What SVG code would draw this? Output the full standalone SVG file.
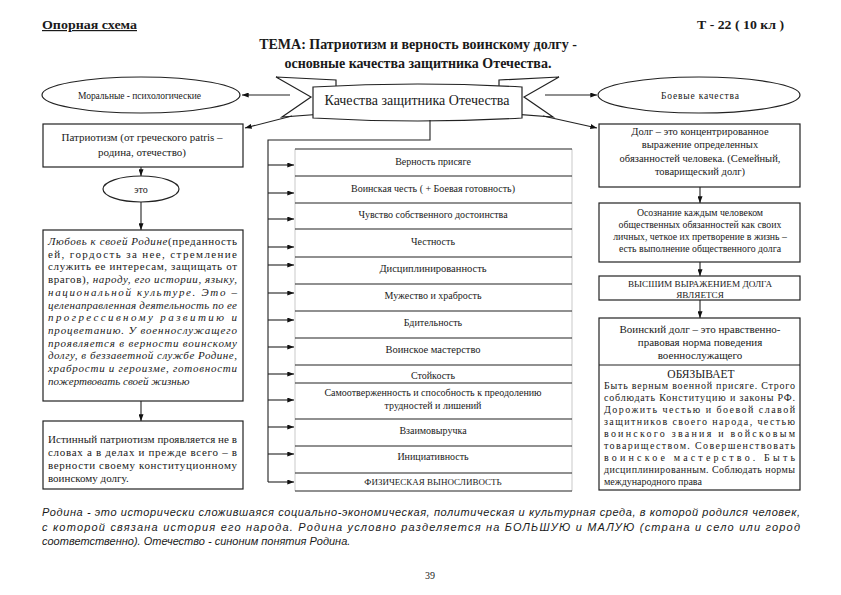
<svg xmlns="http://www.w3.org/2000/svg" width="841" height="595" viewBox="0 0 841 595">
<style>
.s{font-family:'Liberation Serif','Times New Roman',serif;fill:#1a1a1a}
.b{font-weight:bold}
.c{text-anchor:middle}
.i{font-style:italic}
.f10{font-size:10px}
.f11{font-size:11px}
.fr{font-size:10.5px}
.f9{font-size:9.8px}
.box{fill:#fff;stroke:#222;stroke-width:1.2}
.ln{fill:none;stroke:#222;stroke-width:1.1}
.row{stroke:#222;stroke-width:1.1}
.side{stroke:#bbb;stroke-width:0.8}
.bot{font-family:'Liberation Sans',Arial,sans-serif;font-style:italic;font-size:11px;fill:#1a1a1a}
</style>
<defs>
<marker id="ah" viewBox="0 0 8 6" refX="8" refY="3" markerWidth="7" markerHeight="5" markerUnits="userSpaceOnUse" orient="auto">
<path d="M0,0 L8,3 L0,6 Z" fill="#111"/>
</marker>
</defs>
<rect width="841" height="595" fill="#fff"/>

<g id="header">
<text class="s b" x="42" y="29" font-size="12" textLength="95" lengthAdjust="spacingAndGlyphs" text-decoration="underline">Опорная схема</text>
<text class="s b" x="697" y="29" font-size="12" textLength="87" lengthAdjust="spacingAndGlyphs">Т - 22 ( 10 кл )</text>
<text class="s b c" x="418" y="49" font-size="14">ТЕМА: Патриотизм и верность воинскому долгу -</text>
<text class="s b c" x="418" y="68" font-size="14">основные качества защитника Отечества.</text>
</g>

<g id="banner">
<path class="box" d="M276,77 L336,80 L336,113 L282,117 L311,97 Z"/>
<path class="box" d="M559,77 L499,80 L499,113 L553,117 L524,97 Z"/>
<path class="box" d="M313,87 Q418,81 522,87 L522,118 Q418,124 313,118 Z"/>
<text class="s c" x="417" y="105" font-size="14">Качества защитника Отечества</text>
</g>

<g id="connectors" class="ln" marker-end="url(#ah)">
<line x1="290" y1="95" x2="242" y2="95"/>
<line x1="292" y1="116" x2="245" y2="128"/>
<line x1="545" y1="95" x2="597" y2="95"/>
<line x1="543" y1="116" x2="597" y2="128"/>
<polyline points="430,120 430,140 268,140 268,482" marker-end="none"/>
<line x1="268" y1="165" x2="294" y2="165"/>
<line x1="268" y1="193" x2="294" y2="193"/>
<line x1="268" y1="219" x2="294" y2="219"/>
<line x1="268" y1="247" x2="294" y2="247"/>
<line x1="268" y1="265" x2="294" y2="265"/>
<line x1="268" y1="293" x2="294" y2="293"/>
<line x1="268" y1="320" x2="294" y2="320"/>
<line x1="268" y1="347" x2="294" y2="347"/>
<line x1="268" y1="374" x2="294" y2="374"/>
<line x1="268" y1="400" x2="294" y2="400"/>
<line x1="268" y1="427" x2="294" y2="427"/>
<line x1="268" y1="454" x2="294" y2="454"/>
<line x1="268" y1="482" x2="294" y2="482"/>
<line x1="141" y1="167" x2="141" y2="176"/>
<line x1="141" y1="202" x2="141" y2="230"/>
<line x1="141" y1="401" x2="141" y2="421"/>
<line x1="700" y1="187" x2="700" y2="203"/>
<line x1="700" y1="262" x2="700" y2="276"/>
<line x1="700" y1="300" x2="700" y2="318"/>
</g>

<g id="moral">
<ellipse class="box" cx="141" cy="95" rx="99" ry="18"/>
<text class="s" x="78" y="98.5" font-size="9.5" textLength="123" lengthAdjust="spacing">Моральные - психологические</text>
</g>
<g id="boevye">
<ellipse class="box" cx="699" cy="95" rx="101" ry="18"/>
<text class="s" x="661" y="98.5" font-size="9.5" textLength="78" lengthAdjust="spacing">Боевые качества</text>
</g>

<g id="patriotizm">
<rect class="box" x="43" y="124" width="200" height="43"/>
<text class="s c f11" x="142" y="141">Патриотизм (от греческого patris –</text>
<text class="s c f11" x="142" y="156">родина, отечество)</text>
</g>
<g id="eto">
<ellipse class="box" cx="141" cy="189" rx="38" ry="13"/>
<text class="s c" x="141" y="192.5" font-size="10">это</text>
</g>
<g id="lyubov">
<rect class="box" x="43" y="230" width="200" height="171"/>
<text class="s f11" x="48" y="245" textLength="189" lengthAdjust="spacing"><tspan class="i">Любовь к своей Родине</tspan>(преданность</text>
<text class="s f11" x="48" y="257.7" textLength="189" lengthAdjust="spacing">ей, гордость за нее, стремление</text>
<text class="s f11" x="48" y="270.4" textLength="189" lengthAdjust="spacing">служить ее интересам, защищать от</text>
<text class="s f11" x="48" y="283.1" textLength="189" lengthAdjust="spacing">врагов), <tspan class="i">народу, его истории, языку,</tspan></text>
<text class="s f11 i" x="48" y="295.8" textLength="189" lengthAdjust="spacing">национальной культуре. Это –</text>
<text class="s f11 i" x="48" y="308.5" textLength="189" lengthAdjust="spacing">целенаправленная деятельность по ее</text>
<text class="s f11 i" x="48" y="321.2" textLength="189" lengthAdjust="spacing">прогрессивному развитию и</text>
<text class="s f11 i" x="48" y="333.9" textLength="189" lengthAdjust="spacing">процветанию. У военнослужащего</text>
<text class="s f11 i" x="48" y="346.6" textLength="189" lengthAdjust="spacing">проявляется в верности воинскому</text>
<text class="s f11 i" x="48" y="359.3" textLength="189" lengthAdjust="spacing">долгу, в беззаветной службе Родине,</text>
<text class="s f11 i" x="48" y="372" textLength="189" lengthAdjust="spacing">храбрости и героизме, готовности</text>
<text class="s f11 i" x="48" y="384.7">пожертвовать своей жизнью</text>
</g>
<g id="istinny">
<rect class="box" x="43" y="421" width="200" height="68"/>
<text class="s f11" x="48" y="443" textLength="189" lengthAdjust="spacing">Истинный патриотизм проявляется не в</text>
<text class="s f11" x="48" y="456" textLength="189" lengthAdjust="spacing">словах а в делах и прежде всего – в</text>
<text class="s f11" x="48" y="469" textLength="189" lengthAdjust="spacing">верности своему конституционному</text>
<text class="s f11" x="48" y="482">воинскому долгу.</text>
</g>

<g id="qualities">
<line class="side" x1="295" y1="149" x2="295" y2="491"/>
<line class="side" x1="572" y1="149" x2="572" y2="491"/>
<g class="row">
<line x1="295" y1="149" x2="572" y2="149"/>
<line x1="295" y1="176" x2="572" y2="176"/>
<line x1="295" y1="203" x2="572" y2="203"/>
<line x1="295" y1="229" x2="572" y2="229"/>
<line x1="295" y1="257" x2="572" y2="257"/>
<line x1="295" y1="284" x2="572" y2="284"/>
<line x1="295" y1="311" x2="572" y2="311"/>
<line x1="295" y1="338" x2="572" y2="338"/>
<line x1="295" y1="365" x2="572" y2="365"/>
<line x1="295" y1="383" x2="572" y2="383"/>
<line x1="295" y1="419" x2="572" y2="419"/>
<line x1="295" y1="446" x2="572" y2="446"/>
<line x1="295" y1="473" x2="572" y2="473"/>
<line x1="295" y1="491" x2="572" y2="491"/>
</g>
<text class="s c f10" x="433" y="164.5">Верность присяге</text>
<text class="s c f10" x="433" y="191.5">Воинская честь ( + Боевая готовность)</text>
<text class="s c f10" x="433" y="217.5">Чувство собственного достоинства</text>
<text class="s c f10" x="433" y="244.5">Честность</text>
<text class="s c fr" x="433" y="271.5">Дисциплинированность</text>
<text class="s c f10" x="433" y="298.5">Мужество и храбрость</text>
<text class="s c f10" x="433" y="326">Бдительность</text>
<text class="s c fr" x="433" y="352.5">Воинское мастерство</text>
<text class="s c f10" x="433" y="379">Стойкость</text>
<text class="s c f10" x="433" y="396">Самоотверженность и способность к преодолению</text>
<text class="s c f10" x="433" y="409">трудностей и лишений</text>
<text class="s c f10" x="433" y="433.5">Взаимовыручка</text>
<text class="s c f10" x="433" y="459.5">Инициативность</text>
<text class="s c" x="433" y="485" font-size="9">ФИЗИЧЕСКАЯ ВЫНОСЛИВОСТЬ</text>
</g>

<g id="dolg">
<rect class="box" x="599" y="124" width="201" height="63"/>
<text class="s c fr" x="700" y="135">Долг – это концентрированное</text>
<text class="s c fr" x="700" y="148">выражение определенных</text>
<text class="s c fr" x="700" y="161.5">обязанностей человека. (Семейный,</text>
<text class="s c fr" x="700" y="175">товарищеский долг)</text>
</g>
<g id="osoznanie">
<rect class="box" x="599" y="203" width="201" height="59"/>
<text class="s c f9" x="700" y="216">Осознание каждым человеком</text>
<text class="s c f9" x="700" y="228">общественных обязанностей как своих</text>
<text class="s c f9" x="700" y="240">личных, четкое их претворение в жизнь –</text>
<text class="s c f9" x="700" y="252">есть выполнение общественного долга</text>
</g>
<g id="vysshim">
<rect class="box" x="599" y="276" width="201" height="24"/>
<text class="s c" x="700" y="287" font-size="9.2">ВЫСШИМ ВЫРАЖЕНИЕМ ДОЛГА</text>
<text class="s c" x="700" y="297.5" font-size="9.2">ЯВЛЯЕТСЯ</text>
</g>
<g id="voinsky">
<rect class="box" x="599" y="318" width="201" height="172"/>
<line class="row" x1="599" y1="365" x2="800" y2="365"/>
<text class="s c f11" x="700" y="333">Воинский долг – это нравственно-</text>
<text class="s c f11" x="700" y="346">правовая норма поведения</text>
<text class="s c f11" x="700" y="358.5">военнослужащего</text>
<text class="s c" x="701" y="377.5" font-size="11.5">ОБЯЗЫВАЕТ</text>
<text class="s f10" x="604" y="389" textLength="191" lengthAdjust="spacing">Быть верным военной присяге. Строго</text>
<text class="s f10" x="604" y="401" textLength="191" lengthAdjust="spacing">соблюдать Конституцию и законы РФ.</text>
<text class="s f10" x="604" y="413" textLength="191" lengthAdjust="spacing">Дорожить честью и боевой славой</text>
<text class="s f10" x="604" y="425" textLength="191" lengthAdjust="spacing">защитников своего народа, честью</text>
<text class="s f10" x="604" y="437" textLength="191" lengthAdjust="spacing">воинского звания и войсковым</text>
<text class="s f10" x="604" y="449" textLength="191" lengthAdjust="spacing">товариществом. Совершенствовать</text>
<text class="s f10" x="604" y="461" textLength="191" lengthAdjust="spacing">воинское мастерство. Быть</text>
<text class="s f10" x="604" y="473" textLength="191" lengthAdjust="spacing">дисциплинированным. Соблюдать нормы</text>
<text class="s f10" x="604" y="485">международного права</text>
</g>

<g id="footer">
<text class="bot" x="42" y="516" textLength="758" lengthAdjust="spacing">Родина - это исторически сложившаяся социально-экономическая, политическая и культурная среда, в которой родился человек,</text>
<text class="bot" x="42" y="531" textLength="758" lengthAdjust="spacing">с которой связана история его народа. Родина условно разделяется на БОЛЬШУЮ и МАЛУЮ (страна и село или город</text>
<text class="bot" x="42" y="545">соответственно). Отечество - синоним понятия Родина.</text>
<text class="s c" x="430" y="579" font-size="10">39</text>
</g>
</svg>
